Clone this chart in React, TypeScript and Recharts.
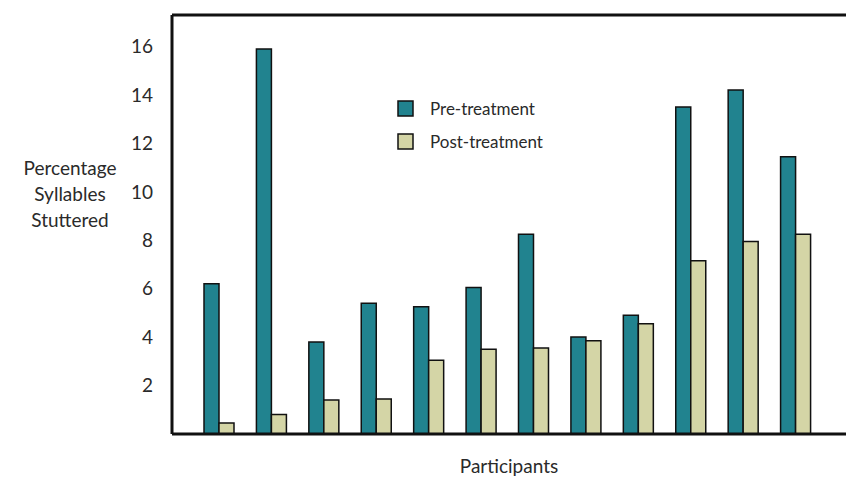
import { BarChart, Bar, XAxis, YAxis, ReferenceLine } from 'recharts';

const participants = ['P1', 'P2', 'P3', 'P4', 'P5', 'P6', 'P7', 'P8', 'P9', 'P10', 'P11', 'P12'];
const preTreatment = [6.2, 15.9, 3.8, 5.4, 5.25, 6.05, 8.25, 4.0, 4.9, 13.5, 14.2, 11.45];
const postTreatment = [0.45, 0.8, 1.4, 1.45, 3.05, 3.5, 3.55, 3.85, 4.55, 7.15, 7.95, 8.25];
const yTicks = [2, 4, 6, 8, 10, 12, 14, 16];
const Y_MAX = 17.3;

const data = participants.map((p, i) => ({
  participant: p,
  pre: preTreatment[i],
  post: postTreatment[i],
}));

const COLORS = {
  pre: '#21838f',
  post: '#d4d5a6',
  text: '#2a2a2a',
};

const FONT = "Lato, 'Open Sans', sans-serif";

function LegendBox() {
  const items = [
    { label: 'Pre-treatment', color: COLORS.pre },
    { label: 'Post-treatment', color: COLORS.post },
  ];
  return (
    <div
      style={{
        position: 'absolute',
        left: 397,
        top: 92,
        fontFamily: FONT,
        fontSize: 17,
        color: COLORS.text,
      }}
    >
      {items.map((it) => (
        <div key={it.label} style={{ display: 'flex', alignItems: 'center', height: 33 }}>
          <svg width={17} height={17} style={{ marginRight: 16 }}>
            <rect x={1} y={1} width={15} height={15} fill={it.color} stroke="#111" strokeWidth={1.5} />
          </svg>
          <span>{it.label}</span>
        </div>
      ))}
    </div>
  );
}

function YLabel() {
  return (
    <text fill={COLORS.text} fontFamily={FONT} fontSize={19} textAnchor="middle">
      <tspan x={70} y={175}>Percentage</tspan>
      <tspan x={70} y={201}>Syllables</tspan>
      <tspan x={70} y={227}>Stuttered</tspan>
    </text>
  );
}

export default function App() {
  return (
    <div style={{ position: 'absolute', left: 0, top: 0, width: 846, height: 477, background: '#fff' }}>
      <BarChart
        width={846}
        height={477}
        data={data}
        margin={{ top: 15, right: 0, left: 0, bottom: 0 }}
        barSize={15}
        barGap={0}
      >
        <XAxis
          dataKey="participant"
          tick={false}
          tickLine={false}
          height={43}
          padding={{ left: 21, right: 24 }}
          axisLine={{ stroke: '#111', strokeWidth: 3 }}
          label={{ value: 'Participants', position: 'insideBottom', offset: 4, fill: COLORS.text, fontSize: 19, fontFamily: FONT }}
        />
        <YAxis
          width={172}
          domain={[0, Y_MAX]}
          ticks={yTicks}
          tickLine={false}
          tickSize={0}
          tickMargin={19}
          axisLine={{ stroke: '#111', strokeWidth: 3 }}
          tick={{ fill: COLORS.text, fontSize: 19, fontFamily: FONT }}
          label={<YLabel />}
        />
        <ReferenceLine y={Y_MAX} stroke="#111" strokeWidth={3} />
        <Bar dataKey="pre" name="Pre-treatment" fill={COLORS.pre} stroke="#111" strokeWidth={1.5} isAnimationActive={false} />
        <Bar dataKey="post" name="Post-treatment" fill={COLORS.post} stroke="#111" strokeWidth={1.5} isAnimationActive={false} />
      </BarChart>
      <LegendBox />
    </div>
  );
}
